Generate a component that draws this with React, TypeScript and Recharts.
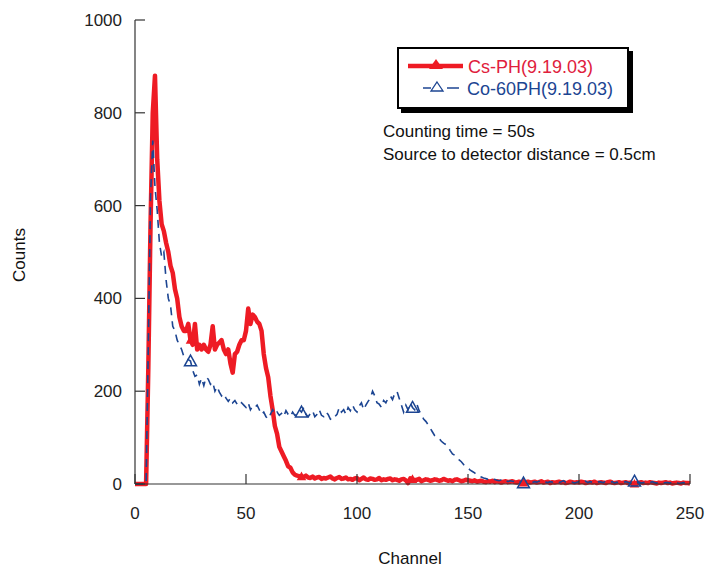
import React from 'react';
import { LineChart, Line, XAxis, YAxis, Legend } from 'recharts';

// counts per channel, channel = index (0..250)
const csCounts = [
  0, 0, 0, 0, 0, 0, 250, 560, 800, 880,
  700, 610, 560, 545, 520, 500, 470, 455, 420, 400,
  360, 340, 330, 330, 345, 310, 300, 345, 290, 300,
  290, 300, 290, 285, 300, 340, 290, 300, 305, 310,
  290, 280, 290, 260, 240, 280, 285, 300, 310, 310,
  330, 378, 345, 365, 360, 350, 345, 330, 280, 250,
  230, 190, 160, 125, 108, 80, 70, 60, 50, 38,
  35, 25, 20, 18, 17, 16, 15, 18, 14, 13,
  16, 12, 14, 15, 11, 13, 12, 14, 16, 12,
  10, 13, 15, 11, 12, 14, 10, 11, 9, 12,
  13, 8, 11, 14, 10, 9, 12, 11, 9, 10,
  13, 8, 10, 9, 11, 12, 8, 10, 9, 7,
  10, 11, 8, 2, 12, 10, 8, 9, 11, 6,
  8, 10, 9, 7, 8, 10, 9, 7, 8, 11,
  9, 7, 8, 6, 9, 10, 8, 6, 7, 9,
  8, 7, 6, 8, 5, 6, 7, 5, 4, 6,
  5, 7, 4, 6, 5, 3, 5, 6, 4, 5,
  6, 4, 3, 5, 4, 2, 4, 5, 3, 4,
  5, 3, 4, 6, 3, 4, 5, 2, 4, 3,
  4, 5, 3, 4, 2, 3, 5, 4, 3, 4,
  3, 5, 4, 2, 3, 4, 3, 5, 2, 3,
  4, 3, 2, 4, 5, 3, 2, 3, 4, 2,
  3, 4, 2, 3, 1, 0, 2, 3, 4, 2,
  3, 2, 4, 3, 2, 1, 3, 2, 3, 4,
  2, 3, 1, 2, 3, 2, 1, 3, 2, 2,
  1,
];

const coCounts = [
  0, 0, 0, 0, 0, 0, 300, 620, 740, 640,
  590, 520, 490, 500, 440, 400, 385, 340, 330, 310,
  300, 290, 275, 270, 268, 265, 245, 232, 235, 215,
  228, 212, 230, 226, 215, 220, 200, 210, 198, 190,
  195, 185, 178, 185, 175, 180, 172, 168, 175, 170,
  165, 175, 160, 168, 165, 170, 160, 150, 155, 145,
  140, 150, 160, 150, 155, 148, 152, 145, 158, 150,
  145, 155, 148, 150, 160, 155, 165, 150, 145, 152,
  158, 145, 150, 160, 148, 145, 155, 150, 140, 138,
  145, 150, 165, 155, 160, 150, 165, 158, 170, 160,
  155, 168, 175, 160, 170, 178, 185, 200, 190, 175,
  172, 165, 180, 175, 185, 190, 182, 195, 200, 185,
  170, 155, 170, 160, 175, 165, 160, 172, 158, 150,
  140, 135, 128, 120, 112, 104, 100, 98, 92, 88,
  85, 80, 72, 65, 62, 56, 52, 48, 42, 38,
  34, 30, 27, 24, 20, 17, 15, 13, 12, 10,
  11, 9, 10, 8, 7, 9, 6, 8, 5, 7,
  6, 5, 7, 4, 5, 2, 4, 6, 5, 3,
  5, 4, 6, 3, 5, 4, 3, 5, 4, 6,
  4, 3, 5, 7, 4, 3, 5, 4, 2, 4,
  5, 3, 4, 6, 3, 5, 4, 2, 3, 5,
  4, 3, 6, 4, 3, 5, 2, 4, 3, 4,
  3, 5, 4, 2, 4, 6, 3, 4, 2, 3,
  4, 2, 3, 5, 3, 2, 4, 3, 2, 3,
  3, 2, 4, 2, 3, 1, 2, 3, 2, 1,
  2,
];

const xTicks = [0, 50, 100, 150, 200, 250];
const yTicks = [0, 200, 400, 600, 800, 1000];

const seriesNames = ['Cs-PH(9.19.03)', 'Co-60PH(9.19.03)'];
const RED = '#ee1b24';
const BLUE = '#1c4592';
const FONT = '"Liberation Sans", Arial, sans-serif';

const data = csCounts.map((v, i) => ({ ch: i, cs: v, co: coCounts[i] }));

// plot frame
const PL = 135;
const PR = 690;
const PT = 20;
const PB = 484;
const TICK = 10;

const LeftTick = (props: any) => {
  const { y, payload } = props;
  return (
    <g>
      <line x1={PL} x2={PL + TICK} y1={y} y2={y} stroke="#333" strokeWidth={1.2} />
      <text x={PL - 13} y={y} dy={6} textAnchor="end" fontSize={17} fontFamily={FONT} fill="#222">
        {payload.value}
      </text>
    </g>
  );
};

const RightTick = (props: any) => {
  const { y } = props;
  return <line x1={PR - TICK} x2={PR} y1={y} y2={y} stroke="#333" strokeWidth={1.2} />;
};

const BottomTick = (props: any) => {
  const { x, payload } = props;
  return (
    <g>
      <line x1={x} x2={x} y1={PB} y2={PB - TICK} stroke="#333" strokeWidth={1.2} />
      <text x={x} y={PB + 35} textAnchor="middle" fontSize={17} fontFamily={FONT} fill="#222">
        {payload.value}
      </text>
    </g>
  );
};

const TopTick = (props: any) => {
  const { x } = props;
  return <line x1={x} x2={x} y1={PT} y2={PT + TICK} stroke="#333" strokeWidth={1.2} />;
};

const triangleDot = (color: string, filled: boolean, s: number) => (props: any) => {
  const { cx, cy, index } = props;
  if (index % 50 !== 25) return <g key={`d-${color}-${index}`} />;
  return (
    <path
      key={`d-${color}-${index}`}
      d={`M${cx},${cy - s} L${cx + s},${cy + s * 0.8} L${cx - s},${cy + s * 0.8} Z`}
      fill={filled ? color : 'none'}
      stroke={color}
      strokeWidth={1.5}
    />
  );
};

const LegendBox = () => (
  <div
    style={{
      width: 228,
      height: 58,
      border: '2px solid #000',
      boxShadow: '4px 4px 0 #000',
      background: '#fff',
      fontFamily: FONT,
      fontSize: 18,
      position: 'relative',
    }}
  >
    <svg width={70} height={58} style={{ position: 'absolute', left: 0, top: 0 }}>
      <line x1={9} x2={64} y1={17} y2={17} stroke={RED} strokeWidth={4.5} />
      <path d="M37,10 L44,20 L30,20 Z" fill={RED} />
      <line x1={24} x2={32} y1={39} y2={39} stroke={BLUE} strokeWidth={1.5} />
      <path d="M38,33 L44,42 L32,42 Z" fill="none" stroke={BLUE} strokeWidth={1.3} />
      <line x1={48} x2={60} y1={39} y2={39} stroke={BLUE} strokeWidth={1.5} />
    </svg>
    <div style={{ position: 'absolute', left: 69, top: 8, color: '#e0203c', lineHeight: '20px' }}>
      {seriesNames[0]}
    </div>
    <div style={{ position: 'absolute', left: 68, top: 30, color: BLUE, lineHeight: '20px' }}>
      {seriesNames[1]}
    </div>
  </div>
);

export default function App() {
  return (
    <div style={{ position: 'absolute', left: 0, top: 0, width: 705, height: 569, background: '#fff' }}>
      <LineChart
        width={705}
        height={569}
        data={data}
        margin={{ top: PT, right: 705 - PR, bottom: 0, left: 0 }}
      >
        <XAxis
          xAxisId="b"
          dataKey="ch"
          type="number"
          domain={[0, 250]}
          ticks={xTicks}
          height={569 - PB}
          axisLine={{ stroke: '#333', strokeWidth: 1.2 }}
          tickLine={false}
          tick={<BottomTick />}
          interval={0}
        />
        <XAxis
          xAxisId="t"
          orientation="top"
          dataKey="ch"
          type="number"
          domain={[0, 250]}
          ticks={xTicks}
          height={0}
          axisLine={{ stroke: '#333', strokeWidth: 1.2 }}
          tickLine={false}
          tick={<TopTick />}
          interval={0}
        />
        <YAxis
          yAxisId="l"
          type="number"
          domain={[0, 1000]}
          ticks={yTicks}
          width={PL}
          axisLine={{ stroke: '#333', strokeWidth: 1.2 }}
          tickLine={false}
          tick={<LeftTick />}
          interval={0}
        />
        <YAxis
          yAxisId="r"
          orientation="right"
          type="number"
          domain={[0, 1000]}
          ticks={yTicks}
          width={0}
          axisLine={{ stroke: '#333', strokeWidth: 1.2 }}
          tickLine={false}
          tick={<RightTick />}
          interval={0}
        />
        <Legend
          layout="vertical"
          align="center"
          verticalAlign="middle"
          content={() => <LegendBox />}
          wrapperStyle={{ left: 397, top: 47, width: 236, height: 66 }}
        />
        <Line
          xAxisId="b"
          yAxisId="l"
          name={seriesNames[0]}
          dataKey="cs"
          stroke={RED}
          strokeWidth={4.5}
          strokeLinejoin="round"
          dot={triangleDot(RED, true, 3.5)}
          activeDot={false}
          isAnimationActive={false}
          type="linear"
        />
        <Line
          xAxisId="b"
          yAxisId="l"
          name={seriesNames[1]}
          dataKey="co"
          stroke={BLUE}
          strokeWidth={1.6}
          strokeDasharray="8 6"
          dot={triangleDot(BLUE, false, 6)}
          activeDot={false}
          isAnimationActive={false}
          type="linear"
        />
      </LineChart>
      <div
        style={{
          position: 'absolute',
          left: 383,
          top: 120,
          fontFamily: FONT,
          fontSize: 17,
          lineHeight: '23px',
          color: '#111',
          whiteSpace: 'nowrap',
        }}
      >
        <div>Counting time = 50s</div>
        <div>Source to detector distance = 0.5cm</div>
      </div>
      <div
        style={{
          position: 'absolute',
          left: 20,
          top: 255,
          transform: 'translate(-50%, -50%) rotate(-90deg)',
          fontFamily: FONT,
          fontSize: 17,
          color: '#111',
          whiteSpace: 'nowrap',
        }}
      >
        Counts
      </div>
      <div
        style={{
          position: 'absolute',
          left: 410,
          top: 559,
          transform: 'translate(-50%, -50%)',
          fontFamily: FONT,
          fontSize: 17,
          color: '#111',
          whiteSpace: 'nowrap',
        }}
      >
        Channel
      </div>
    </div>
  );
}
